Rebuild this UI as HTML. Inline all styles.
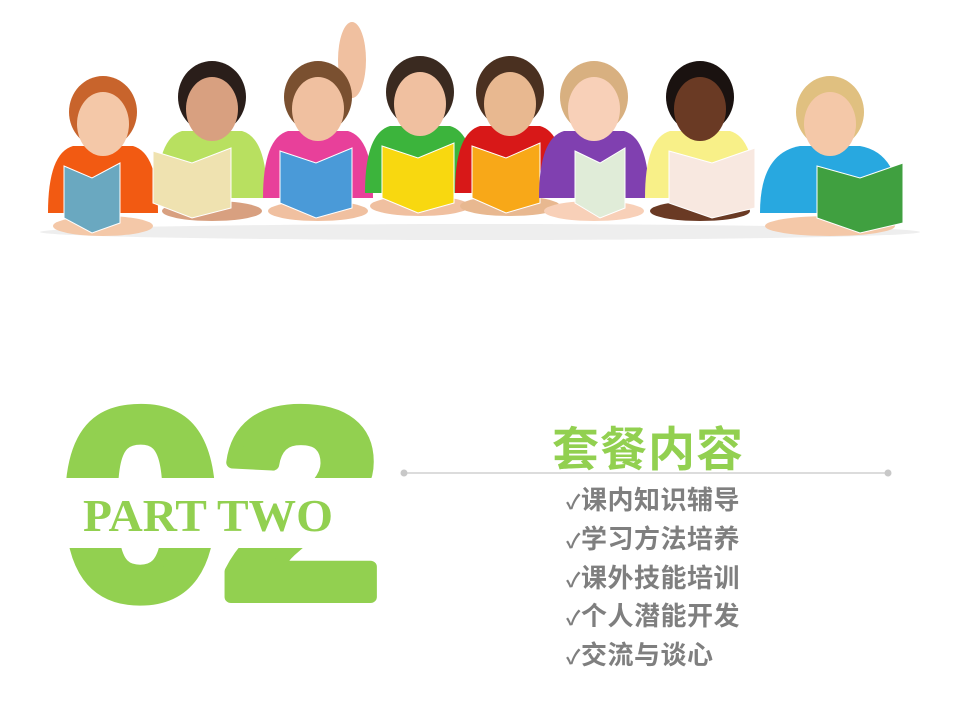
<!DOCTYPE html>
<html><head><meta charset="utf-8"><style>
html,body{margin:0;padding:0;background:#fff;}
#slide{position:relative;width:960px;height:720px;overflow:hidden;background:#fff;font-family:"Liberation Sans","Noto Sans CJK SC",sans-serif;}
.item{position:absolute;left:566px;font-size:26px;font-weight:bold;color:#7f7f7f;font-family:"Liberation Sans","Noto Sans CJK SC",sans-serif;letter-spacing:0.5px;white-space:nowrap;}
.ck{font-size:20px;}
</style></head><body>
<div id="slide">
<svg id="kids" width="960" height="260" style="position:absolute;left:0;top:0"></svg>

<svg width="960" height="720" style="position:absolute;left:0;top:0">
  <text x="60" y="597" font-family="Liberation Sans, sans-serif" font-weight="bold" font-size="268" fill="#92d050" stroke="#92d050" stroke-width="12" stroke-linejoin="round" textLength="322" lengthAdjust="spacingAndGlyphs">02</text>
  <rect x="40" y="478" width="370" height="70" fill="#fff"/>
  <text x="83" y="531" font-family="Liberation Serif, serif" font-weight="bold" font-size="45" fill="#92d050" textLength="250" lengthAdjust="spacingAndGlyphs">PART TWO</text>
  <line x1="404" y1="473" x2="888" y2="473" stroke="#c8c8c8" stroke-width="1.2"/>
  <circle cx="404" cy="473" r="3.5" fill="#c8c8c8"/>
  <circle cx="888" cy="473" r="3.5" fill="#c8c8c8"/>
</svg>

<div style="position:absolute;left:552px;top:411px;font-size:47px;font-weight:bold;color:#92d050;letter-spacing:1px;white-space:nowrap;">套餐内容</div>
<div class="item" style="top:480px"><span class="ck">✓</span>课内知识辅导</div>
<div class="item" style="top:519px"><span class="ck">✓</span>学习方法培养</div>
<div class="item" style="top:558px"><span class="ck">✓</span>课外技能培训</div>
<div class="item" style="top:596px"><span class="ck">✓</span>个人潜能开发</div>
<div class="item" style="top:635px"><span class="ck">✓</span>交流与谈心</div>
</div>
<script>
const kidX=[103,212,318,420,510,594,700,830];
const headY=[118,103,103,98,98,103,103,118];
const hair=['#c8642c','#2a1e1a','#7a5030','#3a2a20','#4a3020','#d8b080','#1a1210','#e0c080'];
const skin=['#f4c8a8','#d8a080','#f0c0a0','#f0c0a0','#e8b890','#f8d0b8','#6a3a24','#f4c8a8'];
const shirt=['#f25a12','#b8e060','#e8409a','#3cb43c','#d81818','#8040b0','#f8f088','#28a8e0'];
const book=['#6aa8c0','#efe2b0','#4a9ad8','#f8d810','#f8a818','#e0ecd8','#f8e8e0','#40a040'];
const bookX=[92,192,316,418,506,600,712,860];
const bookW=[56,78,72,72,68,50,86,86];
const svg=document.getElementById('kids');
const NS='http://www.w3.org/2000/svg';
function mk(t,a){const e=document.createElementNS(NS,t);for(const k in a)e.setAttribute(k,a[k]);svg.appendChild(e);return e;}
let f=mk('ellipse',{cx:352,cy:60,rx:14,ry:38,fill:'#f0c0a0'});


let sh=mk('ellipse',{cx:480,cy:232,rx:440,ry:8,fill:'#eeeeee'});


for(let i=0;i<kidX.length;i++){
  const x=kidX[i],y=headY[i];
  const w=i==7?70:55;
  let s=mk('path',{d:`M${x-w} ${y+95} Q${x-w} ${y+35} ${x-30} ${y+28} L${x+30} ${y+28} Q${x+w} ${y+35} ${x+w} ${y+95} Z`,fill:shirt[i]});
  
  
  let hr=mk('ellipse',{cx:x,cy:y-6,rx:34,ry:36,fill:hair[i]});
  
  
  let fc=mk('ellipse',{cx:x,cy:y+6,rx:26,ry:32,fill:skin[i]});
  
  
  let ar=mk('ellipse',{cx:x,cy:y+108,rx:w-5,ry:10,fill:skin[i]});
  
  
  const bx=bookX[i]-bookW[i]/2, bw=bookW[i];
  let b=mk('path',{d:`M${bx} ${y+48} L${bx+bw/2} ${y+60} L${bx+bw} ${y+45} L${bx+bw} ${y+105} L${bx+bw/2} ${y+115} L${bx} ${y+100} Z`,fill:book[i],stroke:'#ffffff','stroke-width':1});
  
  
}
</script>
</body></html>
